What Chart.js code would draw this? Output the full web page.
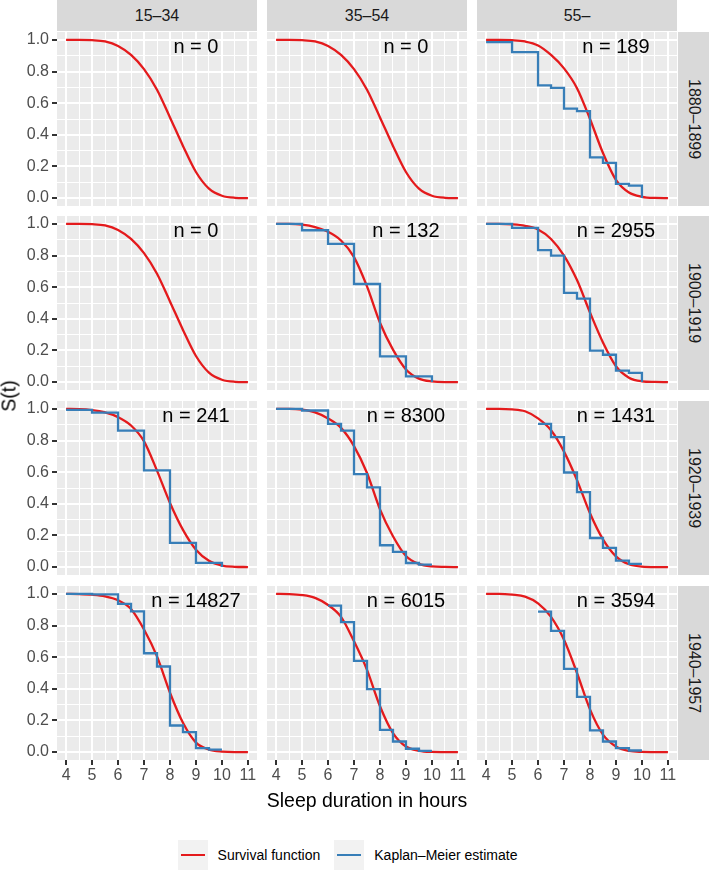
<!DOCTYPE html>
<html>
<head>
<meta charset="utf-8">
<script src="https://cdn.jsdelivr.net/npm/chart.js@4.4.1/dist/chart.umd.min.js"></script>
<style>
  body { margin: 0; background: #fff; font-family: "Liberation Sans", Arial, sans-serif; }
  #fig { position: relative; width: 709px; height: 870px; overflow: hidden; }
  #fig canvas { position: absolute; }
  .strip { position: absolute; background: #D9D9D9; color: #1A1A1A; font-size: 16px;
           display: flex; align-items: center; justify-content: center; }
  .strip.side { writing-mode: vertical-rl; }
  .title { position: absolute; color: #000; font-size: 19.5px; white-space: nowrap; }
  #legend { position: absolute; left: 0; width: 709px; top: 840px; display: flex;
            justify-content: center; align-items: center; font-size: 14px; color: #000; }
  .key { width: 30px; height: 30px; background: #F2F2F2; position: relative; margin-right: 10px; }
  .key span { position: absolute; left: 3px; right: 3px; top: 14px; height: 2.4px; }
  .item { display: flex; align-items: center; margin-right: 14px; }
</style>
</head>
<body>
<div id="fig"></div>
<script>
// facets
const ageGroups = ["15–34", "35–54", "55–"];
const cohorts = ["1880–1899", "1900–1919", "1920–1939", "1940–1957"];
const sampleSizes = [
  [0, 0, 189],
  [0, 132, 2955],
  [241, 8300, 1431],
  [14827, 6015, 3594]
];

// axes
const xBreaks = [4, 5, 6, 7, 8, 9, 10, 11];
const yBreaks = [0, 0.2, 0.4, 0.6, 0.8, 1.0];

// fitted survival function, read at every half hour
const hours = [4, 4.5, 5, 5.5, 6, 6.5, 7, 7.5, 8, 8.5, 9, 9.5, 10, 10.5, 11];
const fit1880 = [
  [1, 1, 0.998, 0.99, 0.962, 0.905, 0.815, 0.685, 0.51, 0.33, 0.165, 0.06, 0.015, 0.002, 0],
  [1, 1, 0.998, 0.99, 0.962, 0.905, 0.815, 0.685, 0.51, 0.33, 0.165, 0.06, 0.015, 0.002, 0],
  [1, 1, 0.998, 0.99, 0.965, 0.905, 0.82, 0.695, 0.50, 0.285, 0.115, 0.035, 0.008, 0.001, 0]
];
const fit1900 = [
  [1, 1, 0.998, 0.99, 0.962, 0.905, 0.815, 0.685, 0.51, 0.33, 0.165, 0.06, 0.015, 0.002, 0],
  [1, 1, 0.995, 0.98, 0.95, 0.895, 0.79, 0.605, 0.375, 0.205, 0.08, 0.022, 0.004, 0, 0],
  [1, 1, 0.997, 0.988, 0.965, 0.905, 0.80, 0.645, 0.44, 0.25, 0.10, 0.028, 0.005, 0.001, 0]
];
const fit1920 = [
  [1, 0.999, 0.993, 0.978, 0.948, 0.895, 0.795, 0.61, 0.405, 0.235, 0.11, 0.04, 0.01, 0.002, 0],
  [1, 1, 0.995, 0.978, 0.94, 0.88, 0.765, 0.595, 0.365, 0.195, 0.07, 0.02, 0.004, 0.001, 0],
  [1, 1, 0.997, 0.985, 0.94, 0.865, 0.73, 0.55, 0.34, 0.175, 0.068, 0.018, 0.003, 0, 0]
];
const fit1940 = [
  [1, 0.999, 0.995, 0.985, 0.96, 0.905, 0.775, 0.605, 0.375, 0.185, 0.06, 0.016, 0.003, 0, 0],
  [1, 0.999, 0.993, 0.975, 0.93, 0.855, 0.70, 0.52, 0.29, 0.12, 0.035, 0.008, 0.001, 0, 0],
  [1, 1, 0.995, 0.983, 0.94, 0.855, 0.71, 0.50, 0.27, 0.11, 0.035, 0.007, 0.001, 0, 0]
];

// Kaplan-Meier estimate: step times and survival
const kmTime1880 = [null, null, [4, 5, 6, 6.5, 7, 7.5, 8, 8.5, 9, 9.5, 10]];
const kmSurv1880 = [null, null, [0.986, 0.923, 0.712, 0.697, 0.565, 0.55, 0.258, 0.223, 0.09, 0.079, 0]];
const kmTime1900 = [null, [4, 5, 6, 7, 8, 9, 10], [4, 5, 6, 6.5, 7, 7.5, 8, 8.5, 9, 9.5, 10]];
const kmSurv1900 = [null, [1, 0.96, 0.874, 0.62, 0.163, 0.036, 0], [1, 0.975, 0.834, 0.80, 0.564, 0.528, 0.199, 0.173, 0.072, 0.058, 0]];
const kmTime1920 = [[4, 5, 6, 7, 8, 9, 10], [4, 5, 6, 6.5, 7, 7.5, 8, 8.5, 9, 9.5, 10], [6, 6.5, 7, 7.5, 8, 8.5, 9, 9.5, 10]];
const kmSurv1920 = [[0.994, 0.977, 0.863, 0.611, 0.153, 0.027, 0], [1, 0.99, 0.905, 0.863, 0.588, 0.504, 0.138, 0.096, 0.026, 0.016, 0.016], [0.905, 0.821, 0.598, 0.474, 0.184, 0.121, 0.041, 0.02, 0.02]];
const kmTime1940 = [[4, 5, 6, 6.5, 7, 7.5, 8, 8.5, 9, 9.5, 10], [6, 6.5, 7, 7.5, 8, 8.5, 9, 9.5, 10], [6, 6.5, 7, 7.5, 8, 8.5, 9, 9.5, 10]];
const kmSurv1940 = [[1, 0.997, 0.937, 0.89, 0.625, 0.541, 0.168, 0.126, 0.025, 0.015, 0.015], [0.926, 0.821, 0.577, 0.398, 0.141, 0.067, 0.021, 0.008, 0.008], [0.888, 0.766, 0.526, 0.349, 0.137, 0.067, 0.025, 0.01, 0.01]];

const fits = [fit1880, fit1900, fit1920, fit1940];
const kmTimes = [kmTime1880, kmTime1900, kmTime1920, kmTime1940];
const kmSurvs = [kmSurv1880, kmSurv1900, kmSurv1920, kmSurv1940];

const RED = "#E41A1C";
const BLUE = "#377EB8";

// layout of the facet grid
const panelLeft = [57, 267, 477];
const panelTop = [32, 216, 401, 586];
const panelW = 200, panelH = 174;
const yAxisW = 57, xAxisH = 30;

// major + minor breaks (minor ones halfway)
function withMinor(br) {
  const out = [];
  br.forEach((v, i) => {
    out.push(v);
    if (i < br.length - 1) out.push((v + br[i + 1]) / 2);
  });
  return out;
}
const xGrid = withMinor(xBreaks);
const yGrid = withMinor(yBreaks);
const isMajorX = v => xBreaks.some(b => Math.abs(b - v) < 1e-6);
const isMajorY = v => yBreaks.some(b => Math.abs(b - v) < 1e-6);

const panelBg = {
  id: "panelBg",
  beforeDraw(chart) {
    const { ctx, chartArea: a } = chart;
    ctx.save();
    ctx.fillStyle = "#EBEBEB";
    ctx.fillRect(a.left, a.top, a.right - a.left, a.bottom - a.top);
    ctx.restore();
  }
};

const nLabel = {
  id: "nLabel",
  afterDatasetsDraw(chart, args, opts) {
    const { ctx, scales } = chart;
    ctx.save();
    ctx.fillStyle = "#000";
    ctx.font = "20px 'Liberation Sans', Arial, sans-serif";
    ctx.textAlign = "center";
    ctx.textBaseline = "middle";
    ctx.fillText(opts.text, scales.x.getPixelForValue(9), scales.y.getPixelForValue(0.95));
    ctx.restore();
  }
};

const fig = document.getElementById("fig");
const tickFont = { family: "'Liberation Sans', Arial, sans-serif", size: 16 };

function makePanel(r, c) {
  const showY = c === 0, showX = r === cohorts.length - 1;
  const canvas = document.createElement("canvas");
  const w = panelW + (showY ? yAxisW : 0);
  const h = panelH + (showX ? xAxisH : 0);
  canvas.width = w; canvas.height = h;
  canvas.style.width = w + "px"; canvas.style.height = h + "px";
  canvas.style.left = (panelLeft[c] - (showY ? yAxisW : 0)) + "px";
  canvas.style.top = panelTop[r] + "px";
  fig.appendChild(canvas);

  const datasets = [];
  if (kmTimes[r][c]) {
    datasets.push({
      label: "Kaplan–Meier estimate",
      data: kmTimes[r][c].map((t, i) => ({ x: t, y: kmSurvs[r][c][i] })),
      borderColor: BLUE, borderWidth: 2.3, stepped: "before", pointRadius: 0
    });
  }
  datasets.push({
    label: "Survival function",
    data: hours.map((t, i) => ({ x: t, y: fits[r][c][i] })),
    borderColor: RED, borderWidth: 2.3, cubicInterpolationMode: "monotone", pointRadius: 0
  });

  new Chart(canvas, {
    type: "line",
    data: { datasets },
    plugins: [panelBg, nLabel],
    options: {
      responsive: false, animation: false, devicePixelRatio: 1,
      layout: { padding: 0 },
      plugins: {
        legend: { display: false }, tooltip: { enabled: false },
        nLabel: { text: "n = " + sampleSizes[r][c] }
      },
      scales: {
        x: {
          type: "linear", min: 3.65, max: 11.35,
          afterBuildTicks: s => { s.ticks = xGrid.map(v => ({ value: v })); },
          afterFit: s => {
            s.height = showX ? xAxisH : 0;
            s.paddingLeft = 0; s.paddingRight = 0;
          },
          border: { display: false },
          grid: {
            color: "#fff",
            lineWidth: ctx => isMajorX(ctx.tick.value) ? 2 : 1,
            drawTicks: showX, tickLength: 5, tickWidth: 2,
            tickColor: ctx => isMajorX(ctx.tick.value) ? "#333333" : "rgba(0,0,0,0)"
          },
          ticks: {
            display: showX, autoSkip: false, maxRotation: 0, minRotation: 0,
            padding: 1, color: "#4D4D4D", font: tickFont,
            callback: v => isMajorX(v) ? String(v) : ""
          }
        },
        y: {
          type: "linear", min: -0.05, max: 1.05,
          afterBuildTicks: s => { s.ticks = yGrid.map(v => ({ value: v })); },
          afterFit: s => {
            s.width = showY ? yAxisW : 0;
            s.paddingTop = 0; s.paddingBottom = 0;
          },
          border: { display: false },
          grid: {
            color: "#fff",
            lineWidth: ctx => isMajorY(ctx.tick.value) ? 2 : 1,
            drawTicks: showY, tickLength: 5, tickWidth: 2,
            tickColor: ctx => isMajorY(ctx.tick.value) ? "#333333" : "rgba(0,0,0,0)"
          },
          ticks: {
            display: showY, autoSkip: false, padding: 3, color: "#4D4D4D", font: tickFont,
            callback: v => isMajorY(v) ? v.toFixed(1) : ""
          }
        }
      }
    }
  });
}

for (let r = 0; r < cohorts.length; r++) {
  for (let c = 0; c < ageGroups.length; c++) makePanel(r, c);
}

// strips
ageGroups.forEach((g, c) => {
  const d = document.createElement("div");
  d.className = "strip";
  d.style.left = panelLeft[c] + "px"; d.style.top = "0px";
  d.style.width = panelW + "px"; d.style.height = "31px";
  d.textContent = g;
  fig.appendChild(d);
});
cohorts.forEach((g, r) => {
  const d = document.createElement("div");
  d.className = "strip side";
  d.style.left = "678px"; d.style.top = panelTop[r] + "px";
  d.style.width = "31px"; d.style.height = panelH + "px";
  d.textContent = g;
  fig.appendChild(d);
});

// axis titles
const yt = document.createElement("div");
yt.className = "title";
yt.textContent = "S(t)";
yt.style.left = "9px"; yt.style.top = "396px";
yt.style.transform = "translate(-50%, -50%) rotate(-90deg)";
fig.appendChild(yt);

const xt = document.createElement("div");
xt.className = "title";
xt.textContent = "Sleep duration in hours";
xt.style.left = "367px"; xt.style.top = "800px";
xt.style.transform = "translate(-50%, -50%)";
fig.appendChild(xt);

// legend
const legend = document.createElement("div");
legend.id = "legend";
[["Survival function", RED], ["Kaplan–Meier estimate", BLUE]].forEach(([txt, col]) => {
  const item = document.createElement("div");
  item.className = "item";
  const key = document.createElement("div");
  key.className = "key";
  const line = document.createElement("span");
  line.style.background = col;
  key.appendChild(line);
  item.appendChild(key);
  item.appendChild(document.createTextNode(txt));
  legend.appendChild(item);
});
fig.appendChild(legend);
</script>
</body>
</html>
